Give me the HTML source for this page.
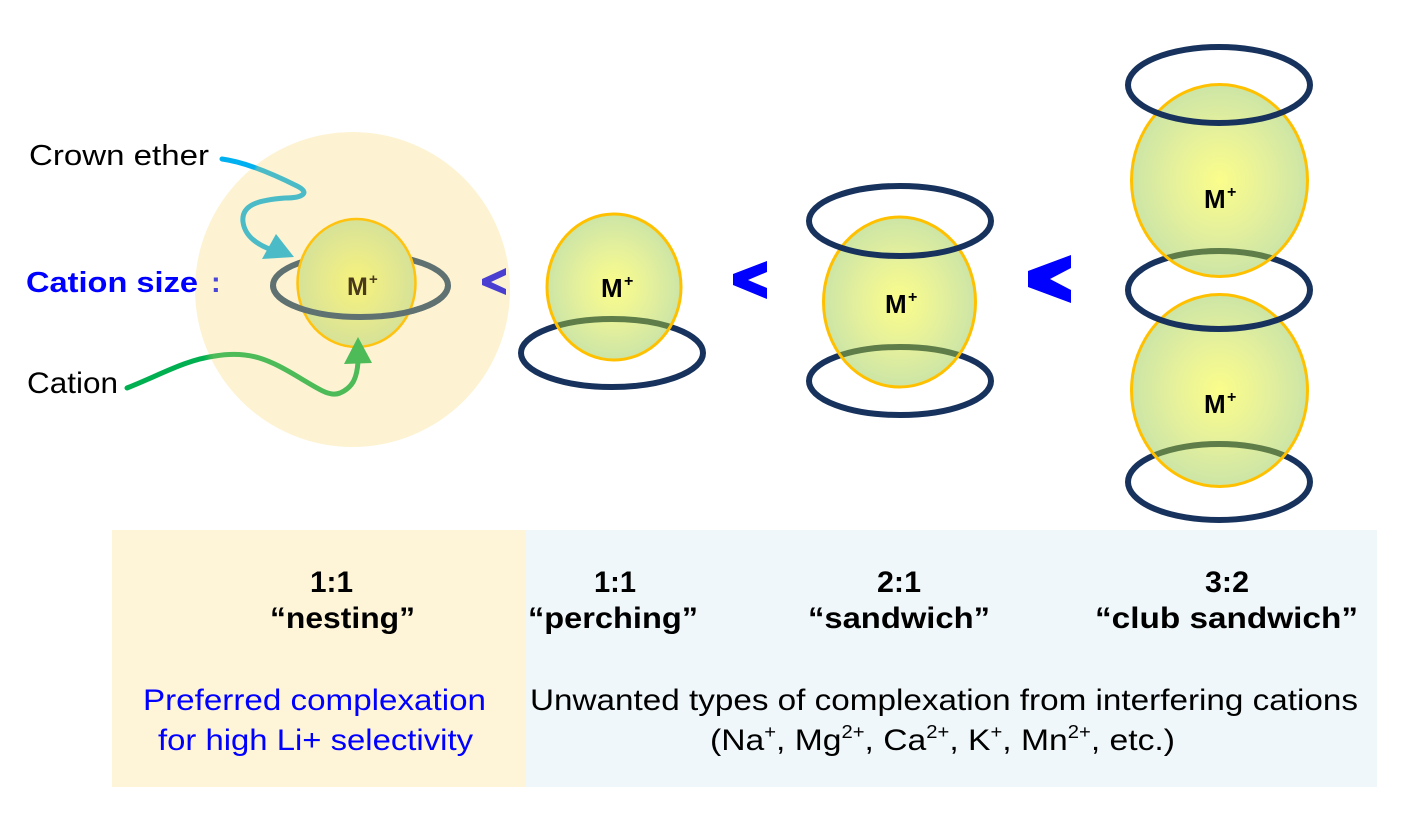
<!DOCTYPE html>
<html>
<head>
<meta charset="utf-8">
<style>
  html, body { margin: 0; padding: 0; background: #ffffff; }
  svg { display: block; }
  text { font-family: "Liberation Sans", Arial, sans-serif; }
</style>
</head>
<body>
<svg width="1416" height="814" viewBox="0 0 1416 814" xmlns="http://www.w3.org/2000/svg">
  <defs>
    <radialGradient id="sph" cx="50%" cy="50%" r="50%">
      <stop offset="0" stop-color="#fbfd8a"/>
      <stop offset="0.55" stop-color="#e4f09c"/>
      <stop offset="1" stop-color="#cce5a6"/>
    </radialGradient>
    <radialGradient id="sphN" cx="50%" cy="50%" r="50%">
      <stop offset="0" stop-color="#f7f37c"/>
      <stop offset="0.55" stop-color="#e6e98d"/>
      <stop offset="1" stop-color="#d6e298"/>
    </radialGradient>
    <linearGradient id="gCrown" gradientUnits="userSpaceOnUse" x1="222" y1="159" x2="300" y2="195">
      <stop offset="0" stop-color="#00b0f0"/>
      <stop offset="0.38" stop-color="#00b0f0"/>
      <stop offset="0.42" stop-color="#4bbcc7"/>
      <stop offset="1" stop-color="#4bbcc7"/>
    </linearGradient>
    <linearGradient id="gCat" gradientUnits="userSpaceOnUse" x1="127" y1="388" x2="360" y2="360">
      <stop offset="0" stop-color="#00b050"/>
      <stop offset="0.34" stop-color="#00b050"/>
      <stop offset="0.38" stop-color="#4cbb58"/>
      <stop offset="1" stop-color="#4cbb58"/>
    </linearGradient>
    <clipPath id="cP"><ellipse cx="614" cy="287" rx="67" ry="73"/></clipPath>
    <clipPath id="cS"><ellipse cx="899.5" cy="302" rx="76" ry="85"/></clipPath>
    <clipPath id="cC1"><ellipse cx="1219.5" cy="180.5" rx="88" ry="96"/></clipPath>
    <clipPath id="cC2"><ellipse cx="1219.5" cy="390.5" rx="88" ry="96"/></clipPath>
  </defs>

  <!-- bottom table -->
  <rect x="112" y="530" width="414" height="257" fill="#fef4d8"/>
  <rect x="526" y="530" width="851" height="257" fill="#eff7fa"/>

  <!-- big beige circle -->
  <circle cx="352.5" cy="289.5" r="157.5" fill="#fdf3d2"/>

  <!-- left labels -->
  <text x="29" y="165" font-size="29" fill="#000" textLength="180" lengthAdjust="spacingAndGlyphs">Crown ether</text>
  <text x="26" y="292" font-size="29" font-weight="bold" fill="#0000ff" textLength="172" lengthAdjust="spacingAndGlyphs">Cation size</text>
  <text x="211" y="292" font-size="29" font-weight="bold" fill="#4a44d8">:</text>
  <text x="27" y="393" font-size="30" fill="#000" textLength="91" lengthAdjust="spacingAndGlyphs">Cation</text>

  <!-- nesting -->
  <ellipse cx="360.5" cy="285.5" rx="87.5" ry="31.5" fill="none" stroke="#5f7171" stroke-width="6"/>
  <ellipse cx="356.5" cy="283" rx="59" ry="64" fill="url(#sphN)" stroke="#ffc20e" stroke-width="2.5"/>
  <path d="M273,285.5 A87.5,31.5 0 0 0 448,285.5" fill="none" stroke="#5f7171" stroke-width="6"/>
  <text x="347" y="295" font-size="25" font-weight="bold" fill="#4a3a1c">M</text>
  <text x="369" y="284" font-size="15" font-weight="bold" fill="#4a3a1c">+</text>

  <!-- crown ether arrow -->
  <path d="M222,159 C245,162 275,175 297,186 C311,193 302,198 285,198 C258,200 241,205 243,222 C245,237 258,245 272,250" fill="none" stroke="url(#gCrown)" stroke-width="5" stroke-linecap="round"/>
  <polygon points="276,234 262,259 294,257" fill="#4bbcc7"/>

  <!-- cation arrow -->
  <path d="M127,388 C160,375 185,360 215,356 C250,350 270,360 300,378 C320,390 330,397 340,393 C354,387 357,376 358,362" fill="none" stroke="url(#gCat)" stroke-width="5" stroke-linecap="round"/>
  <polygon points="344,364 372,363 358,337" fill="#4cbb58"/>

  <!-- chevrons -->
  <polygon points="506,268 506,275 491,282 506,289 506,295 482,285 482,279" fill="#4a3fd0"/>
  <polygon points="767,261 767,272 748,280 767,288 767,299 733,285 733,274" fill="#0000ff"/>
  <polygon points="1071,255 1071,268 1050,279 1071,290 1071,303 1028,287 1028,271" fill="#0000ff"/>

  <!-- perching -->
  <ellipse cx="612" cy="353" rx="91" ry="34" fill="none" stroke="#17325c" stroke-width="6"/>
  <ellipse cx="614" cy="287" rx="67" ry="73" fill="url(#sph)"/>
  <ellipse cx="612" cy="353" rx="91" ry="34" fill="none" stroke="#5f7d48" stroke-width="6" clip-path="url(#cP)"/>
  <ellipse cx="614" cy="287" rx="67" ry="73" fill="none" stroke="#ffc000" stroke-width="3"/>
  <text x="601" y="297" font-size="26" font-weight="bold" fill="#000">M</text>
  <text x="624" y="286" font-size="16" font-weight="bold" fill="#000">+</text>

  <!-- sandwich -->
  <ellipse cx="900" cy="381" rx="91" ry="34" fill="none" stroke="#17325c" stroke-width="6"/>
  <ellipse cx="899.5" cy="302" rx="76" ry="85" fill="url(#sph)"/>
  <ellipse cx="900" cy="381" rx="91" ry="34" fill="none" stroke="#5f7d48" stroke-width="6" clip-path="url(#cS)"/>
  <ellipse cx="899.5" cy="302" rx="76" ry="85" fill="none" stroke="#ffc000" stroke-width="3"/>
  <ellipse cx="900" cy="221" rx="91" ry="35" fill="none" stroke="#17325c" stroke-width="6"/>
  <text x="885" y="313" font-size="26" font-weight="bold" fill="#000">M</text>
  <text x="908" y="302" font-size="16" font-weight="bold" fill="#000">+</text>

  <!-- club sandwich -->
  <ellipse cx="1219" cy="482" rx="91" ry="38" fill="none" stroke="#17325c" stroke-width="6"/>
  <ellipse cx="1219.5" cy="390.5" rx="88" ry="96" fill="url(#sph)"/>
  <ellipse cx="1219" cy="482" rx="91" ry="38" fill="none" stroke="#5f7d48" stroke-width="6" clip-path="url(#cC2)"/>
  <ellipse cx="1219.5" cy="390.5" rx="88" ry="96" fill="none" stroke="#ffc000" stroke-width="3"/>
  <ellipse cx="1219" cy="290" rx="91" ry="39" fill="none" stroke="#17325c" stroke-width="6"/>
  <ellipse cx="1219.5" cy="180.5" rx="88" ry="96" fill="url(#sph)"/>
  <ellipse cx="1219" cy="290" rx="91" ry="39" fill="none" stroke="#5f7d48" stroke-width="6" clip-path="url(#cC1)"/>
  <ellipse cx="1219.5" cy="180.5" rx="88" ry="96" fill="none" stroke="#ffc000" stroke-width="3"/>
  <ellipse cx="1219" cy="85" rx="91" ry="38" fill="none" stroke="#17325c" stroke-width="6"/>
  <text x="1204" y="208" font-size="26" font-weight="bold" fill="#000">M</text>
  <text x="1227" y="197" font-size="16" font-weight="bold" fill="#000">+</text>
  <text x="1204" y="413" font-size="26" font-weight="bold" fill="#000">M</text>
  <text x="1227" y="402" font-size="16" font-weight="bold" fill="#000">+</text>

  <!-- table text -->
  <text x="310" y="592" font-size="30" font-weight="bold" fill="#000" textLength="43" lengthAdjust="spacingAndGlyphs">1:1</text>
  <text x="270" y="628" font-size="30" font-weight="bold" fill="#000" textLength="145" lengthAdjust="spacingAndGlyphs">“nesting”</text>

  <text x="594" y="592" font-size="30" font-weight="bold" fill="#000" textLength="42" lengthAdjust="spacingAndGlyphs">1:1</text>
  <text x="528" y="628" font-size="30" font-weight="bold" fill="#000" textLength="170" lengthAdjust="spacingAndGlyphs">“perching”</text>

  <text x="877" y="592" font-size="30" font-weight="bold" fill="#000" textLength="44" lengthAdjust="spacingAndGlyphs">2:1</text>
  <text x="808" y="628" font-size="30" font-weight="bold" fill="#000" textLength="182" lengthAdjust="spacingAndGlyphs">“sandwich”</text>

  <text x="1205" y="592" font-size="30" font-weight="bold" fill="#000" textLength="44" lengthAdjust="spacingAndGlyphs">3:2</text>
  <text x="1095" y="628" font-size="30" font-weight="bold" fill="#000" textLength="263" lengthAdjust="spacingAndGlyphs">“club sandwich”</text>

  <text x="143" y="710" font-size="30" fill="#0000ff" textLength="343" lengthAdjust="spacingAndGlyphs">Preferred complexation</text>
  <text x="158" y="750" font-size="30" fill="#0000ff" textLength="315" lengthAdjust="spacingAndGlyphs">for high Li+ selectivity</text>

  <text x="530" y="710" font-size="30" fill="#000" textLength="828" lengthAdjust="spacingAndGlyphs">Unwanted types of complexation from interfering cations</text>
  <text x="710" y="750" font-size="30" fill="#000" textLength="465" lengthAdjust="spacingAndGlyphs">(Na<tspan font-size="18" dy="-12">+</tspan><tspan dy="12">, Mg</tspan><tspan font-size="18" dy="-12">2+</tspan><tspan dy="12">, Ca</tspan><tspan font-size="18" dy="-12">2+</tspan><tspan dy="12">, K</tspan><tspan font-size="18" dy="-12">+</tspan><tspan dy="12">, Mn</tspan><tspan font-size="18" dy="-12">2+</tspan><tspan dy="12">, etc.)</tspan></text>
</svg>
</body>
</html>
